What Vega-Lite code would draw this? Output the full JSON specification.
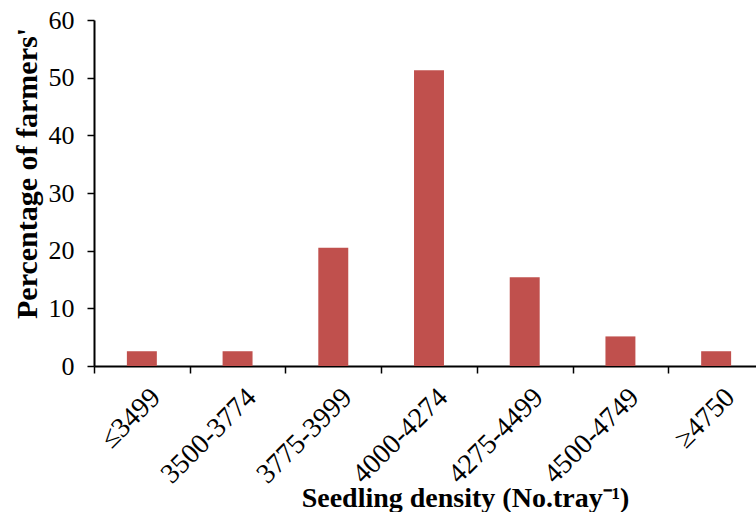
{
  "$schema": "https://vega.github.io/schema/vega-lite/v6.json",
  "autosize": {"type": "none"},
  "width": 662,
  "height": 346,
  "padding": {"left": 94, "top": 20, "right": 0, "bottom": 146},
  "background": "white",
  "data": {"values": [
    {"density": "≤3499", "pct": 2.56},
    {"density": "3500-3774", "pct": 2.56},
    {"density": "3775-3999", "pct": 20.51},
    {"density": "4000-4274", "pct": 51.28},
    {"density": "4275-4499", "pct": 15.38},
    {"density": "4500-4749", "pct": 5.13},
    {"density": "≥4750", "pct": 2.56}
  ]},
  "mark": {"type": "bar", "color": "#C0504D", "width": {"band": 0.313}},
  "encoding": {
    "x": {
      "field": "density", "type": "ordinal", "sort": null,
      "scale": {"range": [0, 670], "paddingInner": 0, "paddingOuter": 0},
      "axis": {
        "title": "Seedling density (No.tray⁻¹)",
        "titleFont": "Liberation Serif", "titleFontSize": 28, "titleFontWeight": "bold", "titleColor": "black",
        "titleX": 371, "titleY": 132, "titleBaseline": "middle", "titleAlign": "center",
        "labelFont": "Liberation Serif", "labelFontSize": 28, "labelColor": "black", "labelAngle": -45,
        "labelPadding": 10, "labelOffset": 4,
        "tickBand": "extent", "tickSize": 7, "tickColor": "black", "tickWidth": 1.5,
        "domainColor": "black", "domainWidth": 2, "grid": false
      }
    },
    "y": {
      "field": "pct", "type": "quantitative",
      "scale": {"domain": [0, 60]},
      "axis": {
        "title": "Percentage of farmers'",
        "values": [0, 10, 20, 30, 40, 50, 60],
        "titleFont": "Liberation Serif", "titleFontSize": 30, "titleFontWeight": "bold", "titleColor": "black",
        "titleX": -67, "titleY": 153, "titleBaseline": "middle", "titleAlign": "center",
        "labelFont": "Liberation Serif", "labelFontSize": 26, "labelColor": "black", "labelPadding": 13,
        "tickSize": 7, "tickColor": "black", "tickWidth": 1.5,
        "domainColor": "black", "domainWidth": 2, "grid": false
      }
    }
  },
  "config": {"view": {"stroke": null}}
}
